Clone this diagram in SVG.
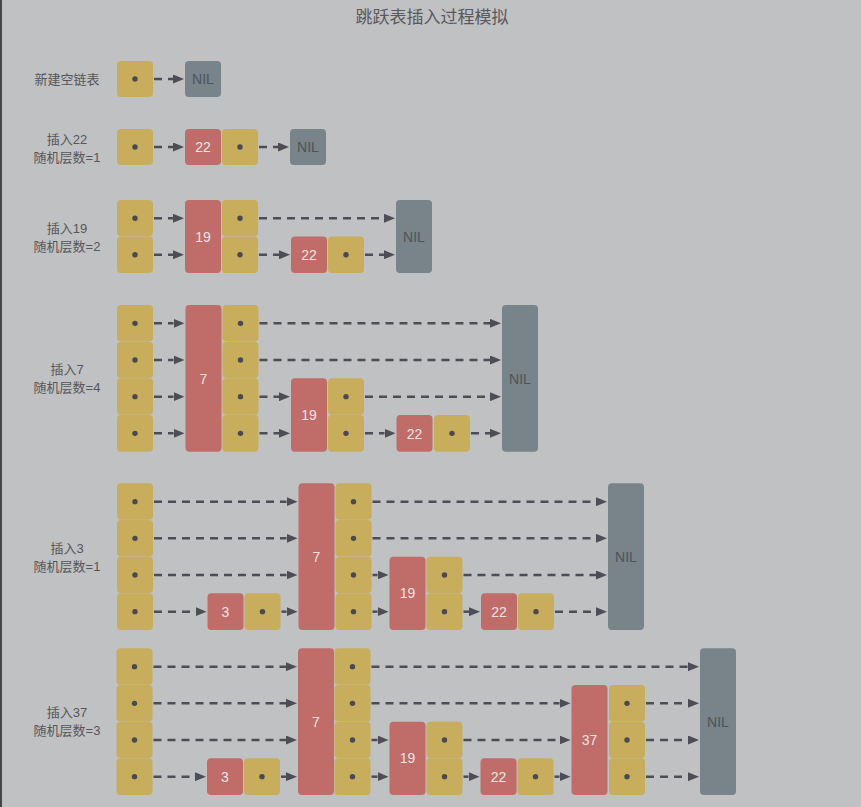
<svg xmlns="http://www.w3.org/2000/svg" width="861" height="807" viewBox="0 0 861 807">
<defs>
<marker id="ah" markerUnits="userSpaceOnUse" markerWidth="11" markerHeight="9" refX="0" refY="4.5" orient="auto">
<path d="M0,0 L11,4.5 L0,9 z" fill="#4e4d56"/>
</marker>
<style>
.y{fill:#c7ad5c}
.r{fill:#c06c68}
.n{fill:#78838a}
.d{fill:#4a4950}
.t{font-family:"Liberation Sans","Noto Sans CJK SC",sans-serif;font-size:13px;fill:#56565b;text-anchor:middle}
.ttl{font-family:"Noto Sans CJK SC","Liberation Sans",sans-serif;font-size:17px;fill:#58585d;text-anchor:middle}
.num{font-family:"Liberation Sans",sans-serif;font-size:14px;fill:#efe4e2;text-anchor:middle}
.nil{font-family:"Liberation Sans",sans-serif;font-size:14px;fill:#4c5359;text-anchor:middle}
.c line{stroke:#4e4d56;stroke-width:2.5;stroke-dasharray:8 6;marker-end:url(#ah)}
</style>
</defs>
<rect width="861" height="807" fill="#c0c1c3"/>
<rect x="0" y="0" width="2" height="807" fill="#47474a"/>
<text class="ttl" x="432" y="23">跳跃表插入过程模拟</text>

<!-- labels -->
<g id="labels">
<text class="t" x="67" y="84">新建空链表</text>
<text class="t" x="67" y="144">插入22</text>
<text class="t" x="67" y="162">随机层数=1</text>
<text class="t" x="67" y="233">插入19</text>
<text class="t" x="67" y="251">随机层数=2</text>
<text class="t" x="67" y="374">插入7</text>
<text class="t" x="67" y="392">随机层数=4</text>
<text class="t" x="67" y="553">插入3</text>
<text class="t" x="67" y="571">随机层数=1</text>
<text class="t" x="67" y="717">插入37</text>
<text class="t" x="67" y="735">随机层数=3</text>
</g>

<!-- Row 1 -->
<g id="r1-head"><rect class="y" x="117" y="61" width="36" height="36" rx="4"/><circle class="d" cx="135" cy="79" r="2.7"/></g>
<g id="r1-nil"><rect class="n" x="185" y="61" width="36" height="36" rx="4"/><text class="nil" x="203" y="84">NIL</text></g>

<!-- Row 2 -->
<g id="r2-head"><rect class="y" x="117" y="129" width="36" height="36" rx="4"/><circle class="d" cx="135" cy="147" r="2.7"/></g>
<g id="r2-22"><rect class="r" x="185" y="129" width="36" height="36" rx="4"/><text class="num" x="203" y="152">22</text>
<rect class="y" x="222" y="129" width="36" height="36" rx="4"/><circle class="d" cx="240" cy="147" r="2.7"/></g>
<g id="r2-nil"><rect class="n" x="290" y="129" width="36" height="36" rx="4"/><text class="nil" x="308" y="152">NIL</text></g>

<!-- Row 3 -->
<g id="r3-head">
<rect class="y" x="117" y="200" width="36" height="36.2" rx="4"/><circle class="d" cx="135" cy="218.25" r="2.7"/>
<rect class="y" x="117" y="236.5" width="36" height="36.5" rx="4"/><circle class="d" cx="135" cy="254.75" r="2.7"/>
</g>
<g id="r3-19">
<rect class="r" x="185" y="200" width="36" height="73" rx="4"/><text class="num" x="203" y="241.5">19</text>
<rect class="y" x="222" y="200" width="36" height="36.2" rx="4"/><circle class="d" cx="240" cy="218.25" r="2.7"/>
<rect class="y" x="222" y="236.5" width="36" height="36.5" rx="4"/><circle class="d" cx="240" cy="254.75" r="2.7"/>
</g>
<g id="r3-22">
<rect class="r" x="291" y="236.5" width="36" height="36.5" rx="4"/><text class="num" x="309" y="259.8">22</text>
<rect class="y" x="328" y="236.5" width="36" height="36.5" rx="4"/><circle class="d" cx="346" cy="254.75" r="2.7"/>
</g>
<g id="r3-nil"><rect class="n" x="396" y="200" width="36" height="73" rx="4"/><text class="nil" x="414" y="241.5">NIL</text></g>

<!-- Row 4 -->
<g id="r4-head">
<rect class="y" x="117" y="305" width="36" height="36.4" rx="4"/><circle class="d" cx="135" cy="323.33" r="2.7"/>
<rect class="y" x="117" y="341.67" width="36" height="36.4" rx="4"/><circle class="d" cx="135" cy="360" r="2.7"/>
<rect class="y" x="117" y="378.33" width="36" height="36.4" rx="4"/><circle class="d" cx="135" cy="396.67" r="2.7"/>
<rect class="y" x="117" y="415" width="36" height="36.67" rx="4"/><circle class="d" cx="135" cy="433.33" r="2.7"/>
</g>
<g id="r4-7">
<rect class="r" x="185.5" y="305" width="36" height="146.67" rx="4"/><text class="num" x="203.5" y="383.5">7</text>
<rect class="y" x="222.5" y="305" width="36" height="36.4" rx="4"/><circle class="d" cx="240.5" cy="323.33" r="2.7"/>
<rect class="y" x="222.5" y="341.67" width="36" height="36.4" rx="4"/><circle class="d" cx="240.5" cy="360" r="2.7"/>
<rect class="y" x="222.5" y="378.33" width="36" height="36.4" rx="4"/><circle class="d" cx="240.5" cy="396.67" r="2.7"/>
<rect class="y" x="222.5" y="415" width="36" height="36.67" rx="4"/><circle class="d" cx="240.5" cy="433.33" r="2.7"/>
</g>
<g id="r4-19">
<rect class="r" x="291" y="378.33" width="36" height="73.33" rx="4"/><text class="num" x="309" y="420">19</text>
<rect class="y" x="328" y="378.33" width="36" height="36.4" rx="4"/><circle class="d" cx="346" cy="396.67" r="2.7"/>
<rect class="y" x="328" y="415" width="36" height="36.67" rx="4"/><circle class="d" cx="346" cy="433.33" r="2.7"/>
</g>
<g id="r4-22">
<rect class="r" x="396.5" y="415" width="36" height="36.67" rx="4"/><text class="num" x="414.5" y="438.5">22</text>
<rect class="y" x="434" y="415" width="36" height="36.67" rx="4"/><circle class="d" cx="452" cy="433.33" r="2.7"/>
</g>
<g id="r4-nil"><rect class="n" x="502" y="305" width="36" height="146.67" rx="4"/><text class="nil" x="520" y="383.5">NIL</text></g>

<!-- Row 5 -->
<g id="r5-head">
<rect class="y" x="117" y="483.33" width="36" height="36.4" rx="4"/><circle class="d" cx="135" cy="501.67" r="2.7"/>
<rect class="y" x="117" y="520" width="36" height="36.4" rx="4"/><circle class="d" cx="135" cy="538.33" r="2.7"/>
<rect class="y" x="117" y="556.67" width="36" height="36.4" rx="4"/><circle class="d" cx="135" cy="575" r="2.7"/>
<rect class="y" x="117" y="593.33" width="36" height="36.67" rx="4"/><circle class="d" cx="135" cy="611.67" r="2.7"/>
</g>
<g id="r5-3">
<rect class="r" x="207.5" y="593.33" width="36" height="36.67" rx="4"/><text class="num" x="225.5" y="616.7">3</text>
<rect class="y" x="244.5" y="593.33" width="36" height="36.67" rx="4"/><circle class="d" cx="262.5" cy="611.67" r="2.7"/>
</g>
<g id="r5-7">
<rect class="r" x="298.5" y="483.33" width="36" height="146.67" rx="4"/><text class="num" x="316.5" y="561.7">7</text>
<rect class="y" x="335.5" y="483.33" width="36" height="36.4" rx="4"/><circle class="d" cx="353.5" cy="501.67" r="2.7"/>
<rect class="y" x="335.5" y="520" width="36" height="36.4" rx="4"/><circle class="d" cx="353.5" cy="538.33" r="2.7"/>
<rect class="y" x="335.5" y="556.67" width="36" height="36.4" rx="4"/><circle class="d" cx="353.5" cy="575" r="2.7"/>
<rect class="y" x="335.5" y="593.33" width="36" height="36.67" rx="4"/><circle class="d" cx="353.5" cy="611.67" r="2.7"/>
</g>
<g id="r5-19">
<rect class="r" x="389.5" y="556.67" width="36" height="73.33" rx="4"/><text class="num" x="407.5" y="598.3">19</text>
<rect class="y" x="426.5" y="556.67" width="36" height="36.4" rx="4"/><circle class="d" cx="444.5" cy="575" r="2.7"/>
<rect class="y" x="426.5" y="593.33" width="36" height="36.67" rx="4"/><circle class="d" cx="444.5" cy="611.67" r="2.7"/>
</g>
<g id="r5-22">
<rect class="r" x="481" y="593.33" width="36" height="36.67" rx="4"/><text class="num" x="499" y="616.7">22</text>
<rect class="y" x="518" y="593.33" width="36" height="36.67" rx="4"/><circle class="d" cx="536" cy="611.67" r="2.7"/>
</g>
<g id="r5-nil"><rect class="n" x="608" y="483.33" width="36" height="146.67" rx="4"/><text class="nil" x="626" y="561.7">NIL</text></g>

<!-- Row 6 -->
<g id="r6-head">
<rect class="y" x="116.5" y="648.33" width="36" height="36.4" rx="4"/><circle class="d" cx="134.5" cy="666.67" r="2.7"/>
<rect class="y" x="116.5" y="685" width="36" height="36.4" rx="4"/><circle class="d" cx="134.5" cy="703.33" r="2.7"/>
<rect class="y" x="116.5" y="721.67" width="36" height="36.4" rx="4"/><circle class="d" cx="134.5" cy="740" r="2.7"/>
<rect class="y" x="116.5" y="758.33" width="36" height="36.67" rx="4"/><circle class="d" cx="134.5" cy="776.67" r="2.7"/>
</g>
<g id="r6-3">
<rect class="r" x="207" y="758.33" width="36" height="36.67" rx="4"/><text class="num" x="225" y="781.7">3</text>
<rect class="y" x="244" y="758.33" width="36" height="36.67" rx="4"/><circle class="d" cx="262" cy="776.67" r="2.7"/>
</g>
<g id="r6-7">
<rect class="r" x="298" y="648.33" width="36" height="146.67" rx="4"/><text class="num" x="316" y="726.7">7</text>
<rect class="y" x="334.5" y="648.33" width="36" height="36.4" rx="4"/><circle class="d" cx="352.5" cy="666.67" r="2.7"/>
<rect class="y" x="334.5" y="685" width="36" height="36.4" rx="4"/><circle class="d" cx="352.5" cy="703.33" r="2.7"/>
<rect class="y" x="334.5" y="721.67" width="36" height="36.4" rx="4"/><circle class="d" cx="352.5" cy="740" r="2.7"/>
<rect class="y" x="334.5" y="758.33" width="36" height="36.67" rx="4"/><circle class="d" cx="352.5" cy="776.67" r="2.7"/>
</g>
<g id="r6-19">
<rect class="r" x="389.5" y="721.67" width="36" height="73.33" rx="4"/><text class="num" x="407.5" y="763.3">19</text>
<rect class="y" x="426.5" y="721.67" width="36" height="36.4" rx="4"/><circle class="d" cx="444.5" cy="740" r="2.7"/>
<rect class="y" x="426.5" y="758.33" width="36" height="36.67" rx="4"/><circle class="d" cx="444.5" cy="776.67" r="2.7"/>
</g>
<g id="r6-22">
<rect class="r" x="480.5" y="758.33" width="36" height="36.67" rx="4"/><text class="num" x="498.5" y="781.7">22</text>
<rect class="y" x="517.5" y="758.33" width="36" height="36.67" rx="4"/><circle class="d" cx="535.5" cy="776.67" r="2.7"/>
</g>
<g id="r6-37">
<rect class="r" x="571.5" y="685" width="36" height="110" rx="4"/><text class="num" x="589.5" y="745">37</text>
<rect class="y" x="609" y="685" width="36" height="36.4" rx="4"/><circle class="d" cx="627" cy="703.33" r="2.7"/>
<rect class="y" x="609" y="721.67" width="36" height="36.4" rx="4"/><circle class="d" cx="627" cy="740" r="2.7"/>
<rect class="y" x="609" y="758.33" width="36" height="36.67" rx="4"/><circle class="d" cx="627" cy="776.67" r="2.7"/>
</g>
<g id="r6-nil"><rect class="n" x="700" y="648.33" width="36" height="146.67" rx="4"/><text class="nil" x="718" y="726.7">NIL</text></g>

<!-- connectors -->
<g id="connectors" class="c">
<line x1="154" y1="79" x2="173" y2="79"/>

<line x1="154" y1="147" x2="173" y2="147"/>
<line x1="259" y1="147" x2="278" y2="147"/>

<line x1="154" y1="218.25" x2="173" y2="218.25"/>
<line x1="259" y1="218.25" x2="384" y2="218.25"/>
<line x1="154" y1="254.75" x2="173" y2="254.75"/>
<line x1="259" y1="254.75" x2="279" y2="254.75"/>
<line x1="365" y1="254.75" x2="384" y2="254.75"/>

<line x1="154" y1="323.33" x2="173.5" y2="323.33"/>
<line x1="259.5" y1="323.33" x2="490" y2="323.33"/>
<line x1="154" y1="360" x2="173.5" y2="360"/>
<line x1="259.5" y1="360" x2="490" y2="360"/>
<line x1="154" y1="396.67" x2="173.5" y2="396.67"/>
<line x1="259.5" y1="396.67" x2="279" y2="396.67"/>
<line x1="365" y1="396.67" x2="490" y2="396.67"/>
<line x1="154" y1="433.33" x2="173.5" y2="433.33"/>
<line x1="259.5" y1="433.33" x2="279" y2="433.33"/>
<line x1="365" y1="433.33" x2="384.5" y2="433.33"/>
<line x1="471" y1="433.33" x2="490" y2="433.33"/>

<line x1="154" y1="501.67" x2="286.5" y2="501.67"/>
<line x1="372.5" y1="501.67" x2="596" y2="501.67"/>
<line x1="154" y1="538.33" x2="286.5" y2="538.33"/>
<line x1="372.5" y1="538.33" x2="596" y2="538.33"/>
<line x1="154" y1="575" x2="286.5" y2="575"/>
<line x1="372.5" y1="575" x2="377.5" y2="575"/>
<line x1="463.5" y1="575" x2="596" y2="575"/>
<line x1="154" y1="611.67" x2="195.5" y2="611.67"/>
<line x1="281.5" y1="611.67" x2="286.5" y2="611.67"/>
<line x1="372.5" y1="611.67" x2="377.5" y2="611.67"/>
<line x1="463.5" y1="611.67" x2="469" y2="611.67"/>
<line x1="555" y1="611.67" x2="596" y2="611.67"/>

<line x1="153.5" y1="666.67" x2="286" y2="666.67"/>
<line x1="371.5" y1="666.67" x2="688" y2="666.67"/>
<line x1="153.5" y1="703.33" x2="286" y2="703.33"/>
<line x1="371.5" y1="703.33" x2="559.5" y2="703.33"/>
<line x1="646" y1="703.33" x2="688" y2="703.33"/>
<line x1="153.5" y1="740" x2="286" y2="740"/>
<line x1="371.5" y1="740" x2="377.5" y2="740"/>
<line x1="463.5" y1="740" x2="559.5" y2="740"/>
<line x1="646" y1="740" x2="688" y2="740"/>
<line x1="153.5" y1="776.67" x2="195" y2="776.67"/>
<line x1="281" y1="776.67" x2="286" y2="776.67"/>
<line x1="371.5" y1="776.67" x2="377.5" y2="776.67"/>
<line x1="463.5" y1="776.67" x2="468.5" y2="776.67"/>
<line x1="554.5" y1="776.67" x2="559.5" y2="776.67"/>
<line x1="646" y1="776.67" x2="688" y2="776.67"/>
</g>
</svg>
